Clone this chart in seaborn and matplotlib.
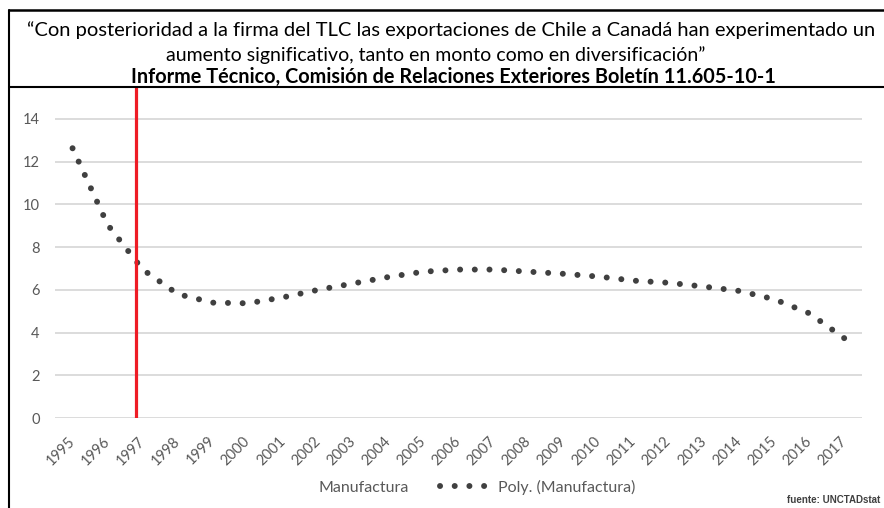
import pandas as pd
import matplotlib.pyplot as plt
from matplotlib.lines import Line2D
import seaborn as sns

# datos (tendencia polinómica)
years = list(range(1995, 2018))
poly_manufactura = [12.63, 9.05, 6.95, 5.80, 5.40, 5.37, 5.65, 6.00, 6.30, 6.60,
                    6.85, 6.95, 6.95, 6.85, 6.75, 6.62, 6.43, 6.33, 6.15, 5.95,
                    5.56, 4.90, 3.73]
tlc_year = 1996.8
y_ticks = [0, 2, 4, 6, 8, 10, 12, 14]

title_1 = "“Con posterioridad a la firma del TLC las exportaciones de Chile a Canadá han experimentado un"
title_2 = "aumento significativo, tanto en monto como en diversificación”"
title_3 = "Informe Técnico, Comisión de Relaciones Exteriores Boletín 11.605-10-1"

df = pd.DataFrame({'Año': years, 'Poly': poly_manufactura})

sns.set_theme(style='white')
plt.rcParams['font.family'] = ['Lato', 'DejaVu Sans']

fig = plt.figure(figsize=(8.84, 5.08), dpi=100)
ax = fig.add_axes([55 / 884, 1 - 418 / 508, 807 / 884, 330 / 508])

dot_style = dict(color='#404040', linewidth=4.3, linestyle=(0, (0.01, 2.45)),
                 dash_capstyle='round')

sns.lineplot(data=df, x='Año', y='Poly', ax=ax, legend=False, clip_on=False, **dot_style)

# línea roja (firma del TLC)
ax.axvline(tlc_year, color='#ee1c25', linewidth=2.3, zorder=5)

ax.set_xlim(1994.5, 2017.5)
ax.set_ylim(0, 15.45)
ax.set_yticks(y_ticks)
ax.set_xticks(years)
ax.set_xticklabels([str(y) for y in years], rotation=45, ha='right', va='center',
                   rotation_mode='anchor')
for y in y_ticks:
    ax.axhline(y, color='#d9d9d9', linewidth=1.3, zorder=0)
ax.tick_params(axis='both', colors='#595959', labelsize=10.5, length=0)
ax.tick_params(axis='y', pad=11)
ax.tick_params(axis='x', pad=15)
ax.set_xlabel('')
ax.set_ylabel('')
for s in ax.spines.values():
    s.set_visible(False)

# leyenda
handles = [Line2D([], [], color='none'), Line2D([], [], **dot_style)]
fig.legend(handles, ['Manufactura', 'Poly. (Manufactura)'], loc='center',
           bbox_to_anchor=(448 / 884, 1 - 487 / 508), ncol=2, frameon=False,
           handlelength=3.6, handletextpad=0.0, columnspacing=2.0,
           labelcolor='#595959', fontsize=11.5)

# recuadro del título
fig.add_artist(Line2D([9 / 884, 1], [1 - 10 / 508] * 2, color='black', linewidth=1.8))
fig.add_artist(Line2D([9 / 884, 1], [1 - 87 / 508] * 2, color='black', linewidth=1.5))
fig.add_artist(Line2D([9 / 884] * 2, [0, 1 - 10 / 508], color='black', linewidth=1.5))

fig.text(451 / 884, 1 - 30 / 508, title_1, ha='center', va='center', fontsize=14.5, color='black')
fig.text(436 / 884, 1 - 55 / 508, title_2, ha='center', va='center', fontsize=14.0, color='black')
fig.text(453 / 884, 1 - 77 / 508, title_3, ha='center', va='center', fontsize=14.3,
         fontweight='bold', color='black')

fig.text(880 / 884, 1 - 500 / 508, 'fuente: UNCTADstat', ha='right', va='center',
         fontsize=7, fontweight='bold', color='#404040', family=['Liberation Sans', 'DejaVu Sans'])

fig.savefig('out.png', dpi=100)
